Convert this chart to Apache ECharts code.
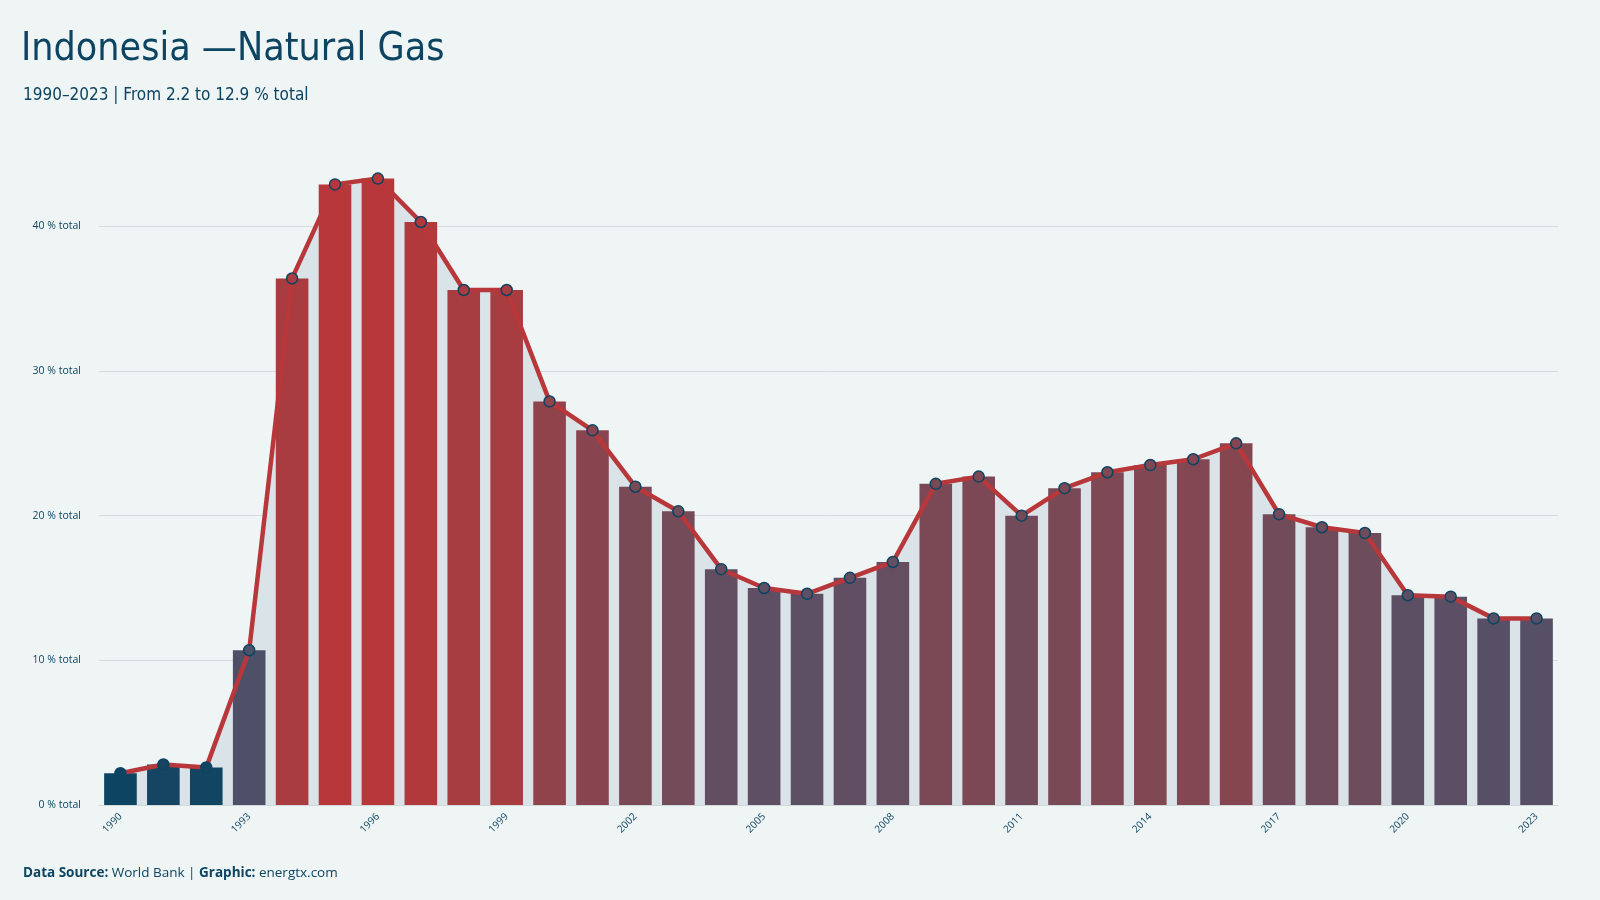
<!DOCTYPE html>
<html>
<head>
<meta charset="utf-8">
<script src="https://cdn.jsdelivr.net/npm/echarts@6/dist/echarts.min.js"></script>
<style>
  html, body { margin: 0; padding: 0; background: #eff5f5; }
  #chart { width: 1600px; height: 900px; }
</style>
</head>
<body>
<div id="chart"></div>
<script>
    // data
    var years = ['1990', '1991', '1992', '1993', '1994', '1995', '1996', '1997', '1998', '1999',
        '2000', '2001', '2002', '2003', '2004', '2005', '2006', '2007', '2008', '2009',
        '2010', '2011', '2012', '2013', '2014', '2015', '2016', '2017', '2018', '2019',
        '2020', '2021', '2022', '2023'];
    var gasShare = [2.2, 2.8, 2.6, 10.7, 36.4, 42.9, 43.3, 40.3, 35.6, 35.6,
        27.9, 25.9, 22.0, 20.3, 16.3, 15.0, 14.6, 15.7, 16.8, 22.2,
        22.7, 20.0, 21.9, 23.0, 23.5, 23.9, 25.0, 20.1, 19.2, 18.8,
        14.5, 14.4, 12.9, 12.9];
    var yTicks = [0, 10, 20, 30, 40];

    var navy = '#0c4461';
    var red = '#b8373a';
    var condensed = "'DejaVu Sans Condensed', 'DejaVu Sans', sans-serif";

    // colour ramp navy -> slate -> red, by value
    var ramp = [
        [2.2, [12, 68, 97]],
        [4, [40, 72, 100]],
        [10.7, [78, 80, 104]],
        [15, [94, 79, 100]],
        [20, [114, 75, 90]],
        [25, [134, 70, 80]],
        [30, [150, 65, 72]],
        [36, [168, 60, 64]],
        [43.3, [184, 55, 58]]
    ];
    function colorFor(v) {
        if (v <= ramp[0][0]) return 'rgb(' + ramp[0][1].join(',') + ')';
        for (var i = 1; i < ramp.length; i++) {
            if (v <= ramp[i][0]) {
                var t = (v - ramp[i - 1][0]) / (ramp[i][0] - ramp[i - 1][0]);
                var a = ramp[i - 1][1], b = ramp[i][1];
                var c = a.map(function (x, k) { return Math.round(x + (b[k] - x) * t); });
                return 'rgb(' + c.join(',') + ')';
            }
        }
        return 'rgb(' + ramp[ramp.length - 1][1].join(',') + ')';
    }

    var m_chart = echarts.init(document.getElementById('chart'));

    var option = {
        backgroundColor: '#eff5f5',
        animation: false,
        textStyle: { fontFamily: 'Open Sans' },
        title: [
            {
                text: 'Indonesia \u2014Natural Gas',
                left: 16, top: 25,
                textStyle: { fontFamily: condensed, fontWeight: 'normal', fontSize: 39, color: navy }
            },
            {
                text: '1990\u20132023 | From 2.2 to 12.9 % total',
                left: 18, top: 82,
                textStyle: { fontFamily: condensed, fontWeight: 'normal', fontSize: 17, color: navy }
            },
            {
                text: '{b|Data Source:} World Bank | {b|Graphic:} energtx.com',
                left: 18, top: 861,
                textStyle: {
                    fontFamily: 'Open Sans', fontSize: 13.5, fontWeight: 'normal', color: navy,
                    rich: { b: { fontFamily: 'Open Sans', fontSize: 13.5, fontWeight: 'bold', color: navy } }
                }
            }
        ],
        grid: { left: 99, right: 42, top: 154, bottom: 95 },
        xAxis: {
            type: 'category',
            data: years,
            axisLine: { lineStyle: { color: '#d0dada' } },
            axisTick: { show: false },
            axisLabel: {
                interval: 2, rotate: 45, color: navy, fontSize: 10, margin: 10
            }
        },
        yAxis: {
            type: 'value',
            min: 0, max: 45, interval: 10,
            axisLine: { show: false },
            axisTick: { show: false },
            axisLabel: {
                showMaxLabel: false,
                color: navy, fontSize: 10.5, margin: 18,
                formatter: function (v) { return yTicks.indexOf(v) >= 0 ? v + ' % total' : ''; }
            },
            splitLine: { showMaxLine: false, lineStyle: { color: '#d3dddd', width: 1 } }
        },
        series: [
            {
                type: 'line',
                data: gasShare,
                z: 1,
                symbol: 'none',
                lineStyle: { width: 0 },
                areaStyle: { color: '#dae4e8', opacity: 1 }
            },
            {
                type: 'bar',
                data: gasShare.map(function (v) {
                    return { value: v, itemStyle: { color: colorFor(v) } };
                }),
                barWidth: '76%',
                z: 2
            },
            {
                type: 'line',
                data: gasShare.map(function (v) {
                    return { value: v, itemStyle: { color: colorFor(v), borderColor: navy, borderWidth: 1.5 } };
                }),
                z: 3,
                symbol: 'circle',
                symbolSize: 11,
                showAllSymbol: true,
                lineStyle: { color: red, width: 4.5 }
            }
        ]
    };

    m_chart.setOption(option);
</script>
</body>
</html>
